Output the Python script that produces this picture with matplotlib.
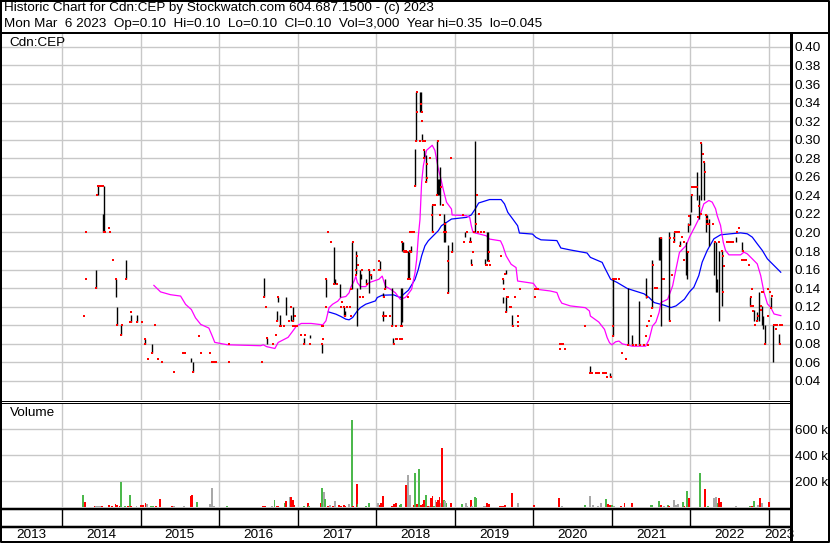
import matplotlib
matplotlib.use("Agg")
import matplotlib.pyplot as plt
from matplotlib.ticker import FuncFormatter

plt.rcParams['font.family'] = ['Liberation Sans', 'DejaVu Sans']

# ---------------- data ----------------
title_line1 = "Historic Chart for Cdn:CEP by Stockwatch.com 604.687.1500 - (c) 2023"
title_line2 = "Mon Mar  6 2023  Op=0.10  Hi=0.10  Lo=0.10  Cl=0.10  Vol=3,000  Year hi=0.35  lo=0.045"
symbol = "Cdn:CEP"

year_ticks = [2014, 2015, 2016, 2017, 2018, 2019, 2020, 2021, 2022, 2023]
year_labels = ["2013", "2014", "2015", "2016", "2017", "2018", "2019", "2020", "2021", "2022", "2023"]
x_start, x_end = 2013.224, 2023.267

price_ticks = [0.04, 0.06, 0.08, 0.10, 0.12, 0.14, 0.16, 0.18, 0.20, 0.22, 0.24,
               0.26, 0.28, 0.30, 0.32, 0.34, 0.36, 0.38, 0.40]
volume_ticks = [200, 400, 600]   # thousands

# high-low bars
bar_year = [2014.434, 2014.455, 2014.52, 2014.53, 2014.685, 2014.70, 2014.75, 2014.81, 2014.877, 2014.953,
            2015.06, 2015.15, 2015.64, 2015.67,
            2016.571, 2016.605, 2016.735, 2016.752, 2016.773, 2016.853, 2016.912, 2016.937,
            2017.076, 2017.155, 2017.307, 2017.357, 2017.458, 2017.479, 2017.534, 2017.592, 2017.609,
            2017.697, 2017.748, 2017.756, 2017.79, 2017.811, 2017.874, 2017.908, 2017.937,
            2018.046, 2018.088, 2018.092, 2018.109, 2018.197, 2018.214, 2018.311, 2018.328,
            2018.325, 2018.346, 2018.403, 2018.418, 2018.443, 2018.494, 2018.506, 2018.561, 2018.57,
            2018.582, 2018.603, 2018.633, 2018.705, 2018.772, 2018.789, 2018.80, 2018.806, 2018.857,
            2018.873, 2018.916, 2018.962, 2019.127, 2019.19, 2019.211, 2019.262, 2019.388, 2019.414,
            2019.422, 2019.612, 2019.646, 2019.613, 2019.647, 2019.734,
            2020.718, 2020.974, 2021.009, 2021.205, 2021.256, 2021.346, 2021.436, 2021.513, 2021.603,
            2021.611, 2021.628, 2021.731, 2021.795, 2021.863, 2021.94, 2021.953, 2021.966, 2021.991,
            2022.013, 2022.077, 2022.106, 2022.136, 2022.17, 2022.196, 2022.213, 2022.234, 2022.298,
            2022.328, 2022.332, 2022.362, 2022.40, 2022.579, 2022.66, 2022.757, 2022.809, 2022.843,
            2022.872, 2022.906, 2022.928, 2022.945, 2023.021, 2023.055, 2023.132]
bar_high = [0.16, 0.25, 0.22, 0.25, 0.15, 0.12, 0.10, 0.17, 0.111, 0.111,
            0.085, 0.08, 0.065, 0.06,
            0.151, 0.086, 0.115, 0.130, 0.111, 0.130, 0.111, 0.120,
            0.086, 0.090, 0.080, 0.150, 0.184, 0.150, 0.144, 0.120, 0.115,
            0.190, 0.180, 0.140, 0.160, 0.155, 0.150, 0.160, 0.155,
            0.169, 0.135, 0.115, 0.150, 0.140, 0.086, 0.140, 0.190,
            0.140, 0.190, 0.180, 0.179, 0.185, 0.290, 0.351, 0.351, 0.351,
            0.306, 0.289, 0.284, 0.230, 0.299, 0.258, 0.258, 0.271, 0.220,
            0.211, 0.186, 0.190, 0.200, 0.195, 0.171, 0.299, 0.171, 0.200,
            0.200, 0.150, 0.160, 0.130, 0.130, 0.111,
            0.056, 0.049, 0.151, 0.140, 0.090, 0.126, 0.151, 0.170, 0.195,
            0.195, 0.195, 0.200, 0.200, 0.191, 0.190, 0.179, 0.210, 0.220,
            0.241, 0.265, 0.240, 0.296, 0.276, 0.220, 0.219, 0.215, 0.190,
            0.190, 0.150, 0.180, 0.180, 0.195, 0.190, 0.130, 0.116, 0.114,
            0.136, 0.121, 0.110, 0.100, 0.130, 0.100, 0.091]
bar_low = [0.14, 0.24, 0.20, 0.20, 0.13, 0.10, 0.09, 0.15, 0.104, 0.104,
           0.08, 0.07, 0.06, 0.05,
           0.130, 0.080, 0.105, 0.125, 0.099, 0.111, 0.105, 0.105,
           0.080, 0.086, 0.070, 0.130, 0.144, 0.144, 0.130, 0.110, 0.110,
           0.139, 0.155, 0.099, 0.139, 0.150, 0.144, 0.135, 0.150,
           0.160, 0.130, 0.105, 0.139, 0.099, 0.080, 0.099, 0.180,
           0.104, 0.179, 0.150, 0.150, 0.179, 0.250, 0.299, 0.330, 0.330,
           0.299, 0.280, 0.254, 0.200, 0.240, 0.240, 0.240, 0.230, 0.190,
           0.190, 0.135, 0.179, 0.195, 0.190, 0.166, 0.200, 0.166, 0.169,
           0.169, 0.145, 0.155, 0.124, 0.114, 0.099,
           0.049, 0.044, 0.089, 0.079, 0.079, 0.079, 0.129, 0.119, 0.170,
           0.170, 0.099, 0.105, 0.190, 0.185, 0.154, 0.150, 0.200, 0.208,
           0.222, 0.235, 0.215, 0.235, 0.235, 0.200, 0.209, 0.185, 0.154,
           0.136, 0.136, 0.105, 0.121, 0.190, 0.180, 0.121, 0.105, 0.105,
           0.105, 0.100, 0.096, 0.080, 0.119, 0.060, 0.080]

# close / single-trade ticks (red)
tick_year = [2014.28, 2014.30, 2014.31, 2014.434, 2014.44, 2014.46, 2014.48, 2014.50, 2014.52, 2014.545,
             2014.53, 2014.60, 2014.617, 2014.65, 2014.685, 2014.70, 2014.75, 2014.766, 2014.81, 2014.86,
             2014.885, 2014.885, 2014.96, 2015.025, 2015.06, 2015.06, 2015.15, 2015.09, 2015.18, 2015.217,
             2015.27, 2015.42, 2015.54, 2015.56, 2015.67, 2015.74, 2015.77, 2015.89, 2015.915, 2015.936,
             2015.96, 2016.12, 2016.12,
             2016.542, 2016.571, 2016.592, 2016.605, 2016.689, 2016.723, 2016.735, 2016.752, 2016.773,
             2016.782, 2016.828, 2016.92, 2016.89, 2016.941, 2016.966, 2016.941, 2016.966, 2016.996,
             2017.046, 2017.076, 2017.097, 2017.151, 2017.319, 2017.307, 2017.324, 2017.307, 2017.361,
             2017.361, 2017.382, 2017.39, 2017.424, 2017.458, 2017.496, 2017.559, 2017.55, 2017.592,
             2017.626, 2017.664, 2017.609, 2017.685, 2017.71, 2017.676, 2017.752, 2017.773, 2017.744,
             2017.748, 2017.794, 2017.824, 2017.832, 2017.878, 2017.912, 2017.966, 2017.937, 2018.034,
             2018.034, 2018.046, 2018.097, 2018.113, 2018.092, 2018.109, 2018.13, 2018.172, 2018.206,
             2018.252, 2018.223, 2018.256, 2018.27, 2018.307, 2018.315, 2018.332, 2018.349, 2018.374,
             2018.403, 2018.424, 2018.429,
             2018.333, 2018.325, 2018.37, 2018.388, 2018.401, 2018.418, 2018.43, 2018.443, 2018.451,
             2018.481, 2018.494, 2018.523, 2018.523, 2018.502, 2018.574, 2018.578, 2018.586, 2018.561,
             2018.59, 2018.62, 2018.603, 2018.603, 2018.65, 2018.637, 2018.65, 2018.679, 2018.726,
             2018.747, 2018.705, 2018.72, 2018.781, 2018.776, 2018.831, 2018.844, 2018.949, 2018.88,
             2018.857, 2018.894, 2018.81, 2018.916, 2018.916, 2018.97, 2019.11, 2019.118, 2019.156,
             2019.19, 2019.21, 2019.219, 2019.232, 2019.287, 2019.308, 2019.274, 2019.25, 2019.30,
             2019.338, 2019.371, 2019.392, 2019.439, 2019.447, 2019.414, 2019.43, 2019.586, 2019.62,
             2019.641, 2019.629, 2019.66, 2019.68, 2019.646, 2019.705, 2019.72, 2019.768, 2019.738,
             2019.81, 2019.802, 2019.802, 2019.831, 2020.017, 2020.04, 2020.055, 2020.017,
             2020.342, 2020.342, 2020.355, 2020.376, 2020.406, 2020.662, 2020.718, 2020.733, 2020.744,
             2020.80, 2020.815, 2020.833, 2020.89, 2020.905, 2020.919, 2020.94, 2020.983, 2021.017,
             2021.034, 2021.051, 2021.094, 2021.009, 2021.017, 2021.132, 2021.175, 2021.205, 2021.265,
             2021.303, 2021.355, 2021.444, 2021.41, 2021.462, 2021.436, 2021.453, 2021.474, 2021.496,
             2021.509, 2021.521, 2021.547, 2021.56, 2021.573, 2021.624, 2021.645, 2021.667, 2021.739,
             2021.735, 2021.761, 2021.808, 2021.83, 2021.85, 2021.786, 2021.795, 2021.868, 2021.897,
             2021.923, 2021.923, 2021.97, 2021.983, 2021.983,
             2022.021, 2022.04, 2022.064, 2022.085, 2022.021, 2022.102, 2022.111, 2022.128, 2022.136,
             2022.157, 2022.166, 2022.179, 2022.196, 2022.213, 2022.213, 2022.234, 2022.285, 2022.306,
             2022.362, 2022.404, 2022.417, 2022.426, 2022.417, 2022.468, 2022.49, 2022.51, 2022.545,
             2022.617, 2022.596, 2022.672, 2022.66, 2022.68, 2022.702, 2022.745, 2022.787, 2022.766,
             2022.774, 2022.80, 2022.80, 2022.817, 2022.843, 2022.86, 2022.894, 2022.894, 2022.91,
             2022.928, 2022.945, 2022.987, 2022.991, 2023.013, 2023.038, 2023.03, 2023.064, 2023.085,
             2023.085, 2023.106, 2023.136, 2023.17, 2023.136]
tick_price = [0.11, 0.20, 0.15, 0.14, 0.24, 0.25, 0.25, 0.25, 0.25, 0.20,
              0.20, 0.205, 0.20, 0.17, 0.15, 0.10, 0.09, 0.10, 0.15, 0.104,
              0.104, 0.114, 0.104, 0.104, 0.085, 0.08, 0.07, 0.064, 0.10, 0.064,
              0.06, 0.05, 0.07, 0.07, 0.05, 0.089, 0.07, 0.07, 0.06, 0.06,
              0.06, 0.06, 0.08,
              0.060, 0.130, 0.120, 0.086, 0.080, 0.090, 0.105, 0.130, 0.099,
              0.099, 0.099, 0.120, 0.105, 0.105, 0.110, 0.099, 0.099, 0.099,
              0.090, 0.080, 0.090, 0.080, 0.085, 0.080, 0.099, 0.099, 0.120,
              0.150, 0.200, 0.200, 0.190, 0.144, 0.144, 0.125, 0.120, 0.120,
              0.120, 0.120, 0.110, 0.110, 0.190, 0.139, 0.175, 0.165, 0.160,
              0.154, 0.130, 0.160, 0.130, 0.144, 0.160, 0.160, 0.154, 0.169,
              0.160, 0.160, 0.130, 0.139, 0.110, 0.110, 0.110, 0.110, 0.099,
              0.099, 0.080, 0.085, 0.085, 0.085, 0.099, 0.190, 0.180, 0.180,
              0.150, 0.200, 0.180,
              0.099, 0.085, 0.179, 0.179, 0.130, 0.150, 0.150, 0.179, 0.200,
              0.200, 0.250, 0.351, 0.330, 0.299, 0.339, 0.330, 0.320, 0.299,
              0.299, 0.299, 0.289, 0.280, 0.274, 0.254, 0.259, 0.280, 0.230,
              0.230, 0.219, 0.200, 0.299, 0.240, 0.249, 0.230, 0.280, 0.209,
              0.200, 0.200, 0.219, 0.169, 0.135, 0.179, 0.219, 0.190, 0.200,
              0.190, 0.190, 0.165, 0.179, 0.240, 0.220, 0.209, 0.200, 0.200,
              0.200, 0.200, 0.165, 0.179, 0.165, 0.165, 0.169, 0.175, 0.150,
              0.155, 0.139, 0.130, 0.130, 0.114, 0.120, 0.120, 0.130, 0.099,
              0.099, 0.110, 0.104, 0.139, 0.139, 0.139, 0.139, 0.130,
              0.080, 0.074, 0.080, 0.080, 0.074, 0.099, 0.049, 0.049, 0.049,
              0.049, 0.049, 0.049, 0.049, 0.049, 0.049, 0.044, 0.044, 0.150,
              0.150, 0.150, 0.150, 0.089, 0.099, 0.070, 0.064, 0.079, 0.079,
              0.079, 0.079, 0.130, 0.079, 0.079, 0.089, 0.099, 0.105, 0.110,
              0.119, 0.165, 0.140, 0.140, 0.140, 0.194, 0.150, 0.150, 0.105,
              0.194, 0.154, 0.200, 0.200, 0.200, 0.190, 0.194, 0.185, 0.195,
              0.190, 0.170, 0.179, 0.218, 0.208,
              0.249, 0.249, 0.249, 0.249, 0.240, 0.217, 0.229, 0.220, 0.296,
              0.285, 0.276, 0.265, 0.219, 0.215, 0.209, 0.209, 0.209, 0.190,
              0.190, 0.180, 0.175, 0.164, 0.136, 0.190, 0.190, 0.190, 0.190,
              0.205, 0.200, 0.180, 0.170, 0.170, 0.170, 0.165, 0.139, 0.130,
              0.121, 0.121, 0.115, 0.100, 0.105, 0.110, 0.121, 0.116, 0.136,
              0.136, 0.080, 0.110, 0.139, 0.136, 0.132, 0.119, 0.100, 0.100,
              0.096, 0.100, 0.100, 0.100, 0.080]

# short moving average (magenta)
ma_short_year = [2015.17, 2015.255, 2015.38, 2015.51, 2015.574, 2015.647, 2015.70, 2015.766, 2015.87, 2015.915,
                 2015.945, 2016.106, 2016.53, 2016.563, 2016.605, 2016.71, 2016.752, 2016.878, 2016.94, 2016.983,
                 2017.046, 2017.172, 2017.32, 2017.36, 2017.40, 2017.445, 2017.51, 2017.55, 2017.613, 2017.655,
                 2017.676, 2017.72, 2017.74, 2017.76, 2017.80, 2017.866, 2017.91, 2018.034, 2018.076, 2018.118,
                 2018.18, 2018.244, 2018.307, 2018.37, 2018.388, 2018.45, 2018.494, 2018.515, 2018.536, 2018.557,
                 2018.578, 2018.60, 2018.64, 2018.713, 2018.747, 2018.79, 2018.823, 2018.852, 2018.895, 2018.958,
                 2018.966, 2019.148, 2019.19, 2019.21, 2019.232, 2019.40, 2019.443, 2019.582, 2019.612, 2019.654,
                 2019.717, 2019.78, 2019.80, 2020.0, 2020.055, 2020.214, 2020.30, 2020.333, 2020.363, 2020.47,
                 2020.662, 2020.714, 2020.726, 2020.833, 2020.906, 2020.94, 2020.97, 2021.0, 2021.047, 2021.09,
                 2021.132, 2021.26, 2021.43, 2021.474, 2021.517, 2021.56, 2021.60, 2021.624, 2021.71, 2021.773,
                 2021.816, 2021.838, 2021.86, 2021.944, 2021.987, 2022.064, 2022.106, 2022.17, 2022.234, 2022.277,
                 2022.32, 2022.34, 2022.383, 2022.417, 2022.447, 2022.49, 2022.638, 2022.68, 2022.723, 2022.787,
                 2022.85, 2022.894, 2022.936, 2022.98, 2023.02, 2023.064, 2023.15]
ma_short = [0.143, 0.136, 0.133, 0.1315, 0.1225, 0.117, 0.108, 0.101, 0.097, 0.088,
            0.0816, 0.079, 0.078, 0.079, 0.077, 0.075, 0.0815, 0.087, 0.094, 0.099,
            0.102, 0.102, 0.1005, 0.1048, 0.119, 0.1227, 0.126, 0.130, 0.131, 0.135,
            0.141, 0.148, 0.153, 0.146, 0.1417, 0.1417, 0.146, 0.1496, 0.153, 0.142,
            0.139, 0.135, 0.128, 0.130, 0.1315, 0.1387, 0.1567, 0.171, 0.196, 0.214,
            0.254, 0.272, 0.2885, 0.294, 0.2885, 0.2687, 0.258, 0.247, 0.2326, 0.2253,
            0.2189, 0.2181, 0.2163, 0.2073, 0.2001, 0.1965, 0.1929, 0.191, 0.1856, 0.1748,
            0.1658, 0.1622, 0.1477, 0.1452, 0.1387, 0.137, 0.1353, 0.128, 0.1238, 0.1209,
            0.119, 0.1154, 0.110, 0.1035, 0.0956, 0.0866, 0.0812, 0.079, 0.0822, 0.083,
            0.080, 0.0775, 0.0775, 0.0848, 0.0992, 0.1035, 0.1137, 0.1245, 0.1281, 0.1425,
            0.1606, 0.1696, 0.1786, 0.1858, 0.1949, 0.2075, 0.2147, 0.2309, 0.2345, 0.2327,
            0.2255, 0.2183, 0.2076, 0.1896, 0.1806, 0.1759, 0.1759, 0.1788, 0.177, 0.1716,
            0.1662, 0.1536, 0.1356, 0.123, 0.1194, 0.1122, 0.1104]

# long moving average (blue)
ma_long_year = [2017.39, 2017.487, 2017.55, 2017.613, 2017.655, 2017.70, 2017.76, 2017.80, 2017.866, 2017.99,
                2018.013, 2018.076, 2018.222, 2018.307, 2018.35, 2018.41, 2018.494, 2018.536, 2018.578, 2018.62,
                2018.662, 2018.726, 2018.79, 2018.83, 2018.895, 2018.958, 2019.148, 2019.21, 2019.26, 2019.304,
                2019.443, 2019.59, 2019.633, 2019.675, 2019.738, 2019.80, 2019.823, 2019.99, 2020.034, 2020.097,
                2020.30, 2020.35, 2020.47, 2020.684, 2020.726, 2020.876, 2020.906, 2020.983, 2021.068, 2021.197,
                2021.41, 2021.474, 2021.538, 2021.667, 2021.752, 2021.816, 2021.923, 2021.987, 2022.043, 2022.106,
                2022.149, 2022.213, 2022.298, 2022.383, 2022.51, 2022.638, 2022.723, 2022.787, 2022.85, 2022.915,
                2022.979, 2023.064, 2023.149]
ma_long = [0.1145, 0.112, 0.1095, 0.1066, 0.1059, 0.1084, 0.1156, 0.1191, 0.1227, 0.1263,
           0.1299, 0.1324, 0.1328, 0.1299, 0.1335, 0.1378, 0.1495, 0.1603, 0.1748, 0.1856,
           0.191, 0.1965, 0.2019, 0.2073, 0.2109, 0.2145, 0.2163, 0.2189, 0.2253, 0.2318,
           0.2355, 0.2355, 0.2308, 0.2217, 0.2145, 0.2073, 0.1994, 0.1983, 0.1947, 0.1921,
           0.1913, 0.1833, 0.1812, 0.1779, 0.1732, 0.1678, 0.1624, 0.1497, 0.1461, 0.1396,
           0.1339, 0.1299, 0.1245, 0.1216, 0.1191, 0.1209, 0.1281, 0.136, 0.141, 0.1536,
           0.168, 0.1806, 0.1932, 0.1975, 0.1986, 0.1996, 0.1986, 0.195, 0.1878, 0.1806,
           0.1716, 0.1644, 0.1572]

# volume (thousands of shares); colour code: g = up, r = down, n = unchanged
vol_year = [2014.268, 2014.294, 2014.421, 2014.438, 2014.46, 2014.481, 2014.511, 2014.523, 2014.596, 2014.638,
            2014.681, 2014.702, 2014.736, 2014.749, 2014.80, 2014.843, 2014.868, 2014.881, 2014.949, 2015.009,
            2015.034, 2015.064, 2015.077, 2015.136, 2015.162, 2015.20, 2015.251, 2015.404, 2015.43, 2015.549,
            2015.638, 2015.66, 2015.723, 2015.745, 2015.881, 2015.915, 2015.936, 2016.106, 2016.515, 2016.553,
            2016.57, 2016.591, 2016.668, 2016.706, 2016.736, 2016.749, 2016.817, 2016.834, 2016.851, 2016.881,
            2016.898, 2016.911, 2016.936, 2016.953, 2017.03, 2017.055, 2017.081, 2017.128, 2017.14, 2017.294,
            2017.311, 2017.332, 2017.349, 2017.383, 2017.417, 2017.447, 2017.477, 2017.523, 2017.553, 2017.587,
            2017.609, 2017.651, 2017.689, 2017.702, 2017.753, 2017.762, 2017.787, 2017.872, 2017.906, 2017.957,
            2018.026, 2018.047, 2018.064, 2018.089, 2018.111, 2018.20, 2018.221, 2018.255, 2018.298, 2018.319,
            2018.374, 2018.404, 2018.43, 2018.477, 2018.494, 2018.515, 2018.545, 2018.57,
            2018.593, 2018.61, 2018.636, 2018.661, 2018.678, 2018.703, 2018.716, 2018.733, 2018.754, 2018.775,
            2018.788, 2018.805, 2018.822, 2018.839, 2018.864, 2018.881, 2018.894, 2018.907, 2018.924, 2018.953,
            2018.97, 2019.093, 2019.119, 2019.144, 2019.161, 2019.182, 2019.203, 2019.22, 2019.254, 2019.275,
            2019.297, 2019.369, 2019.386, 2019.411, 2019.436, 2019.576, 2019.593, 2019.61, 2019.636, 2019.657,
            2019.686, 2019.729, 2019.775, 2019.805, 2019.822, 2019.992, 2020.008, 2020.051, 2020.322, 2020.347,
            2020.364, 2020.398, 2020.653, 2020.72, 2020.754, 2020.822, 2020.852, 2020.864, 2020.924, 2020.949,
            2020.975, 2021.004, 2021.025, 2021.081, 2021.119, 2021.161, 2021.191, 2021.254, 2021.292, 2021.347,
            2021.419, 2021.441, 2021.458, 2021.50, 2021.517, 2021.538, 2021.597, 2021.623, 2021.665, 2021.712,
            2021.729, 2021.746, 2021.788, 2021.818, 2021.843, 2021.903, 2021.924, 2021.953, 2021.987, 2022.017,
            2022.042, 2022.068, 2022.119, 2022.182, 2022.22, 2022.242, 2022.297, 2022.322, 2022.347, 2022.36,
            2022.39, 2022.445, 2022.466, 2022.496, 2022.538, 2022.585, 2022.61, 2022.644, 2022.686, 2022.763,
            2022.784, 2022.805, 2022.835, 2022.864, 2022.89, 2022.907, 2022.941, 2022.996, 2023.025, 2023.068,
            2023.11, 2023.161]
vol_k = [92, 38, 4, 4, 4, 4, 4, 3, 15, 4,
         23, 15, 8, 192, 4, 8, 92, 4, 8, 13,
         15, 28, 23, 4, 8, 4, 62, 4, 4, 8,
         85, 92, 38, 3, 23, 146, 8, 8, 3, 8,
         8, 4, 4, 54, 4, 4, 3, 33, 46, 2,
         74, 77, 54, 15, 3, 3, 4, 28, 8, 28,
         146, 115, 62, 4, 13, 4, 46, 15, 4, 15,
         8, 23, 669, 4, 177, 26, 3, 8, 28, 3,
         31, 15, 28, 85, 3, 8, 23, 28, 15, 23,
         169, 246, 92, 15, 264, 23, 292, 15,
         23, 54, 92, 8, 8, 67, 85, 8, 54, 41,
         54, 77, 28, 454, 54, 46, 28, 3, 3, 31,
         3, 23, 3, 31, 8, 2, 54, 8, 77, 72,
         2, 8, 8, 31, 23, 8, 8, 8, 15, 3,
         3, 110, 3, 31, 3, 3, 15, 2, 69, 3,
         8, 2, 15, 85, 15, 8, 3, 31, 62, 26,
         15, 15, 8, 2, 8, 31, 3, 31, 3, 2,
         3, 3, 2, 15, 13, 3, 46, 15, 8, 15,
         8, 3, 54, 15, 23, 38, 8, 123, 69, 3,
         3, 3, 262, 138, 8, 3, 69, 77, 31, 69,
         38, 3, 3, 3, 3, 8, 2, 3, 3, 8,
         8, 46, 2, 15, 69, 31, 3, 38, 2, 2,
         2, 2]
vol_dir = ['g', 'r', 'r', 'n', 'n', 'n', 'r', 'n', 'r', 'r',
           'r', 'r', 'r', 'g', 'g', 'r', 'g', 'r', 'n', 'r',
           'r', 'r', 'n', 'g', 'g', 'r', 'r', 'r', 'n', 'n',
           'r', 'r', 'g', 'r', 'n', 'n', 'n', 'g', 'r', 'r',
           'r', 'r', 'n', 'g', 'r', 'r', 'n', 'g', 'r', 'r',
           'n', 'r', 'r', 'r', 'r', 'n', 'g', 'r', 'g', 'r',
           'g', 'n', 'g', 'r', 'n', 'r', 'n', 'r', 'r', 'r',
           'r', 'n', 'g', 'r', 'r', 'g', 'r', 'g', 'g', 'n',
           'n', 'r', 'r', 'r', 'n', 'r', 'r', 'r', 'g', 'g',
           'r', 'n', 'n', 'r', 'g', 'r', 'g', 'r',
           'r', 'r', 'g', 'r', 'n', 'r', 'r', 'g', 'n', 'r',
           'r', 'r', 'n', 'r', 'g', 'n', 'g', 'r', 'n', 'r',
           'n', 'g', 'n', 'n', 'n', 'r', 'r', 'n', 'g', 'g',
           'r', 'n', 'n', 'r', 'r', 'r', 'r', 'r', 'r', 'n',
           'r', 'r', 'n', 'n', 'g', 'n', 'r', 'n', 'r', 'n',
           'n', 'r', 'g', 'n', 'n', 'n', 'g', 'n', 'g', 'r',
           'r', 'g', 'n', 'n', 'r', 'r', 'g', 'r', 'n', 'n',
           'r', 'g', 'r', 'g', 'g', 'n', 'g', 'r', 'n', 'g',
           'r', 'n', 'n', 'n', 'n', 'g', 'r', 'g', 'r', 'r',
           'g', 'n', 'g', 'r', 'g', 'r', 'n', 'n', 'g', 'r',
           'r', 'n', 'n', 'n', 'n', 'n', 'r', 'r', 'r', 'g',
           'r', 'g', 'n', 'n', 'r', 'n', 'r', 'r', 'r', 'g',
           'g', 'g']

# ---------------- styling ----------------
W, H = 830, 543
GRID = '#c8c8c8'
COLORS = {'g': '#4cb84c', 'r': '#ff0000', 'n': '#a8a8a8'}
FS = 9.7


def px(x0, y0, x1, y1):
    return [x0 / W, 1 - y1 / H, (x1 - x0) / W, (y1 - y0) / H]


fig = plt.figure(figsize=(W / 100, H / 100), dpi=100)
fig.patch.set_facecolor('white')

# ---- price panel ----
axp = fig.add_axes(px(1, 34, 790, 400))
axp.set_xlim(x_start, x_end)
axp.set_ylim(0.0195, 0.4139)
axp.set_xticks(year_ticks)
axp.set_yticks(price_ticks)
axp.set_yticklabels([f"{v:.2f}" for v in price_ticks])
axp.yaxis.tick_right()
axp.tick_params(axis='y', length=0, pad=3.5, labelsize=FS)
axp.tick_params(axis='x', length=0, labelbottom=False)
axp.grid(True, color=GRID, lw=1.0)
axp.set_axisbelow(True)
for s in axp.spines.values():
    s.set_visible(False)

axp.plot(ma_long_year, ma_long, color='#0000ff', lw=0.9, zorder=3)
axp.plot(ma_short_year, ma_short, color='#ff00ff', lw=0.9, zorder=3)
axp.vlines(bar_year, bar_low, bar_high, color='black', lw=1.0, zorder=4)
axp.plot(tick_year, tick_price, 's', color='#ff0000', ms=1.8, mew=0, zorder=5)
axp.text(8 / 789, 1 - 9 / 366, symbol, transform=axp.transAxes, fontsize=FS, va='center', ha='left')

# ---- volume panel ----
axv = fig.add_axes(px(1, 403, 790, 507))
axv.set_xlim(x_start, x_end)
axv.set_ylim(0, 800)
axv.set_xticks(year_ticks)
axv.set_yticks(volume_ticks)
axv.yaxis.set_major_formatter(FuncFormatter(lambda v, p: f"{v:.0f} k"))
axv.yaxis.tick_right()
axv.tick_params(axis='y', length=0, pad=3.5, labelsize=FS)
axv.tick_params(axis='x', length=0, labelbottom=False)
axv.grid(True, color=GRID, lw=1.0)
axv.set_axisbelow(True)
for s in axv.spines.values():
    s.set_visible(False)
axv.bar(vol_year, vol_k, width=0.024, color=[COLORS[c] for c in vol_dir], lw=0, zorder=3)
axv.text(9 / 789, 1 - 10 / 104, "Volume", transform=axv.transAxes, fontsize=FS, va='center', ha='left')

# ---- year strip ----
axy = fig.add_axes(px(1, 508, 790, 542))
axy.set_xlim(x_start, x_end)
axy.set_ylim(0, 34)
axy.axis('off')
axy.vlines(year_ticks, 16, 34, color='black', lw=1.0)
bounds = [x_start] + year_ticks + [x_end]
for i, lab in enumerate(year_labels):
    c = (bounds[i] + bounds[i + 1]) / 2
    axy.text(c, 7.5, lab, ha='center', va='center', fontsize=FS)

# ---- frame lines (pixel overlay) ----
ov = fig.add_axes([0, 0, 1, 1], zorder=10)
ov.set_xlim(0, W)
ov.set_ylim(H, 0)
ov.axis('off')
ov.patch.set_alpha(0)
k = 0.72
ov.plot([0, W], [33, 33], color='black', lw=2 * k)
ov.plot([1, 790], [400.5, 400.5], color='black', lw=1 * k)
ov.plot([1, 790], [402.5, 402.5], color='black', lw=1 * k)
ov.plot([1, 790], [509, 509], color='black', lw=2.5 * k)
ov.plot([1, 790], [526.5, 526.5], color='black', lw=2.5 * k)
ov.plot([790.5, 790.5], [33, H], color='black', lw=3 * k)
ov.plot([0.75, 0.75, W - 0.75, W - 0.75, 0.75], [0.75, H - 1, H - 1, 0.75, 0.75], color='black', lw=2 * k)

fig.text(4 / W, 1 - 8.5 / H, title_line1, fontsize=FS, va='center', ha='left')
fig.text(4 / W, 1 - 23.5 / H, title_line2, fontsize=FS, va='center', ha='left')

fig.savefig("out.png", dpi=100, facecolor='white')
